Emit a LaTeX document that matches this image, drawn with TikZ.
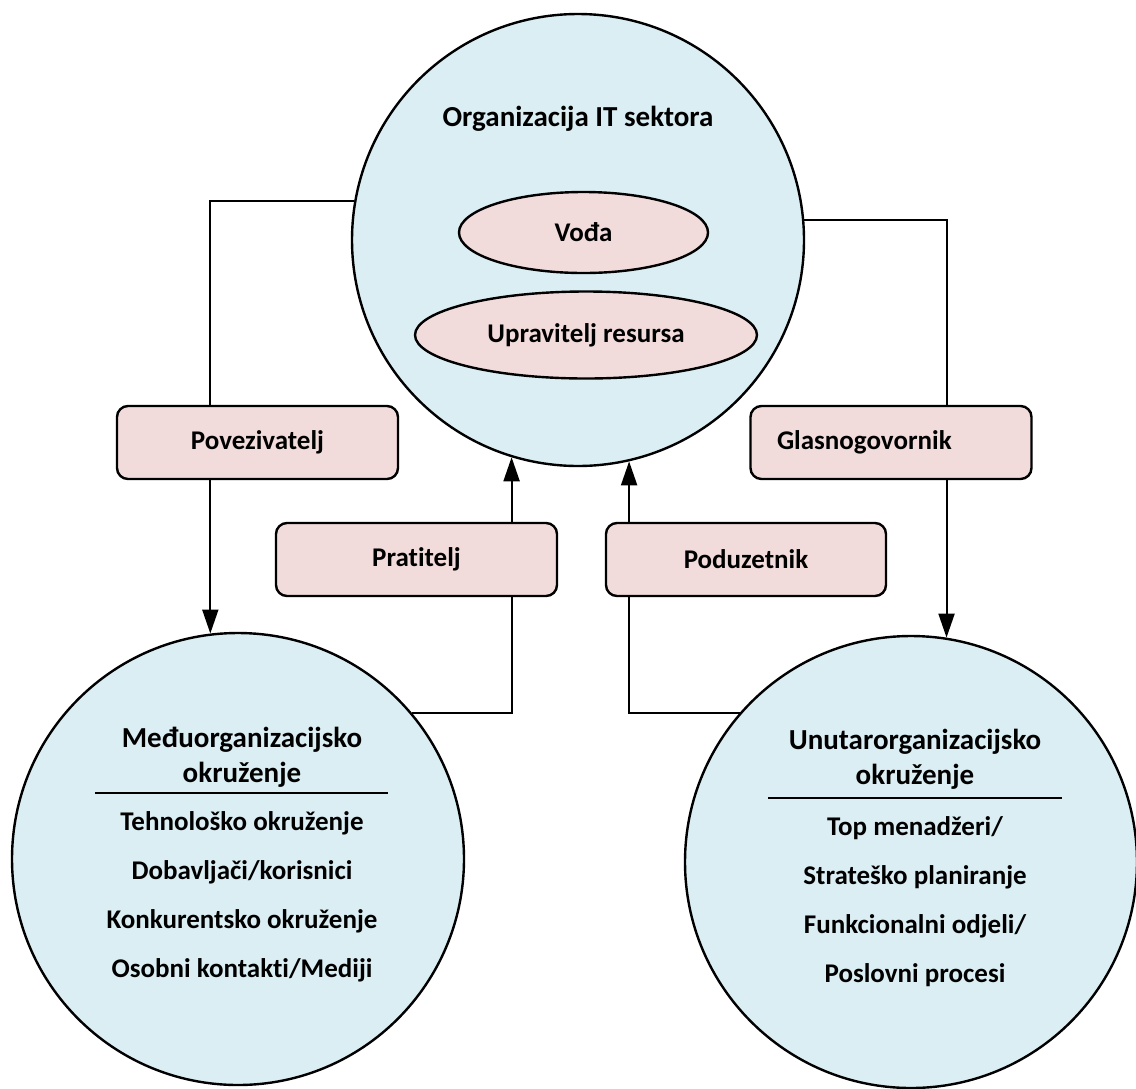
\documentclass[tikz,border=0pt]{standalone}
\usepackage{fontspec}
\setmainfont{Carlito}[Ligatures=NoCommon]
\usetikzlibrary{shapes.geometric,arrows.meta}

\definecolor{krugplava}{HTML}{DAEEF3}
\definecolor{ulogaroza}{HTML}{F2DCDB}

\tikzset{
  krug/.style={circle, draw=black, line width=2.4pt, fill=krugplava, minimum size=452pt, inner sep=0pt},
  uloga/.style={rectangle, rounded corners=11pt, draw=black, line width=2.4pt, fill=ulogaroza, minimum width=281pt, minimum height=73pt, font=\fontsize{27}{32}\selectfont\bfseries},
  jaje/.style={ellipse, draw=black, line width=2.4pt, fill=ulogaroza, inner sep=0pt, font=\fontsize{27}{32}\selectfont\bfseries},
  naslov/.style={align=center, font=\fontsize{29}{35}\selectfont\bfseries},
  popis/.style={align=center, font=\fontsize{27}{49}\selectfont\bfseries},
  veza/.style={line width=2pt},
  strelica/.style={line width=2pt, -{Triangle[length=24pt,width=16pt]}}
}

\begin{document}
\begin{tikzpicture}[x=1pt,y=-1pt]
  \useasboundingbox (0,0) rectangle (1136,1088);

  % Draw the three circles
  \node[krug] (otop) at (578,240) {};
  \node[krug] (oleft) at (238,859) {};
  \node[krug] (oright) at (911,862) {};

  % Draw the top circle and its two roles
  \node[naslov] (tnaslov) at (578,119) {Organizacija IT sektora};
  \node[jaje, minimum width=249pt, minimum height=81pt] (voda) at (583.5,232.5) {Vođa};
  \node[jaje, minimum width=342pt, minimum height=87pt] (uprav) at (586,335) {Upravitelj resursa};

  % Draw the four role boxes
  \node[uloga] (povez) at (257.5,442.5) {Povezivatelj};
  \node[uloga, inner xsep=25pt, text width=228pt, align=left] (glas) at (891,442.5) {Glasnogovornik};
  \node[uloga] (prat) at (416.5,559.5) {Pratitelj};
  \node[uloga, minimum width=280pt] (podu) at (746,559.5) {Poduzetnik};

  % Draw the texts of the lower circles
  \node[naslov] (lnaslov) at (242,757.5) {Međuorganizacijsko\\okruženje};
  \draw[veza] (95,793) -- (388,793);
  \node[popis] (lpopis) at (242,896.5) {Tehnološko okruženje\\Dobavljači/korisnici\\Konkurentsko okruženje\\Osobni kontakti/Mediji};

  \node[naslov] (rnaslov) at (915,759.5) {Unutarorganizacijsko\\okruženje};
  \draw[veza] (768,798) -- (1062,798);
  \node[popis] (rpopis) at (915,901.5) {Top menadžeri/\\Strateško planiranje\\Funkcionalni odjeli/\\Poslovni procesi};

  % Draw the connectors
  \draw[veza] (otop.170) -| (povez.north -| oleft.97);
  \draw[strelica] (povez.south -| oleft.97) -- (oleft.97);

  \draw[veza] (otop.5) -| (glas.north -| oright.81);
  \draw[strelica] (glas.south -| oright.81) -- (oright.81);

  \draw[strelica] (prat.north -| otop.253.5) -- (otop.253.5);
  \draw[veza] (prat.south -| otop.253.5) |- (oleft.40);

  \draw[strelica] (podu.north -| otop.283.3) -- (otop.283.3);
  \draw[veza] (podu.south -| otop.283.3) |- (oright.139);
\end{tikzpicture}
\end{document}
